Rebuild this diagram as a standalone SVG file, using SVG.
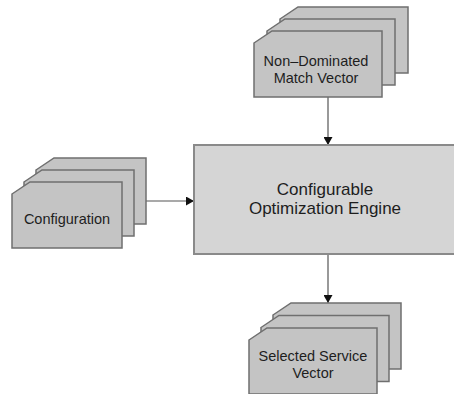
<svg xmlns="http://www.w3.org/2000/svg" xmlns:xlink="http://www.w3.org/1999/xlink" width="454" height="394" viewBox="0 0 454 394">
  <style>
    .card { fill: #c4c4c4; stroke: #6f6f6f; stroke-width: 1.5; }
    .engine { fill: #d5d5d5; stroke: #8a8a8a; stroke-width: 2; }
    .label { font-family: "Liberation Sans", Arial, sans-serif; fill: #1e1e1e; text-anchor: middle; }
    .small { font-size: 14.5px; }
    .big { font-size: 17px; }
    .wire { stroke: #555; stroke-width: 1.2; fill: none; marker-end: url(#tip); }
  </style>
  <defs>
    <!-- document sheet with a clipped top-left corner -->
    <path id="sheet-wide" d="M0,12 L18,0 L128,0 L128,66 L0,66 Z"/>
    <path id="sheet-narrow" d="M0,12 L18,0 L110,0 L110,66 L0,66 Z"/>
    <marker id="tip" markerWidth="8" markerHeight="9" refX="8" refY="4.5" orient="auto" markerUnits="userSpaceOnUse">
      <path d="M0,0 L8,4.5 L0,9 Z" fill="#111"/>
    </marker>
  </defs>

  <rect width="454" height="394" fill="#ffffff"/>

  <g id="connectors">
    <line class="wire" x1="328" y1="97" x2="328" y2="145"/>
    <line class="wire" x1="146" y1="201" x2="194" y2="201"/>
    <line class="wire" x1="328" y1="255" x2="328" y2="303"/>
  </g>

  <g id="engine">
    <rect class="engine" x="194" y="145" width="264" height="109"/>
    <text class="label big" x="325" y="195">Configurable</text>
    <text class="label big" x="325" y="214">Optimization Engine</text>
  </g>

  <g id="match-vector">
    <use class="card" xlink:href="#sheet-wide" x="280" y="7"/>
    <use class="card" xlink:href="#sheet-wide" x="267" y="19"/>
    <use class="card" xlink:href="#sheet-wide" x="254" y="31"/>
    <text class="label small" x="316" y="66">Non–Dominated</text>
    <text class="label small" x="316" y="83">Match Vector</text>
  </g>

  <g id="configuration">
    <use class="card" xlink:href="#sheet-narrow" x="36" y="158"/>
    <use class="card" xlink:href="#sheet-narrow" x="24" y="170"/>
    <use class="card" xlink:href="#sheet-narrow" x="12" y="182"/>
    <text class="label small" x="67" y="224">Configuration</text>
  </g>

  <g id="selected-vector">
    <use class="card" xlink:href="#sheet-wide" x="273" y="303"/>
    <use class="card" xlink:href="#sheet-wide" x="261" y="315.5"/>
    <use class="card" xlink:href="#sheet-wide" x="249" y="328"/>
    <text class="label small" x="313" y="361">Selected Service</text>
    <text class="label small" x="313" y="378">Vector</text>
  </g>
</svg>
